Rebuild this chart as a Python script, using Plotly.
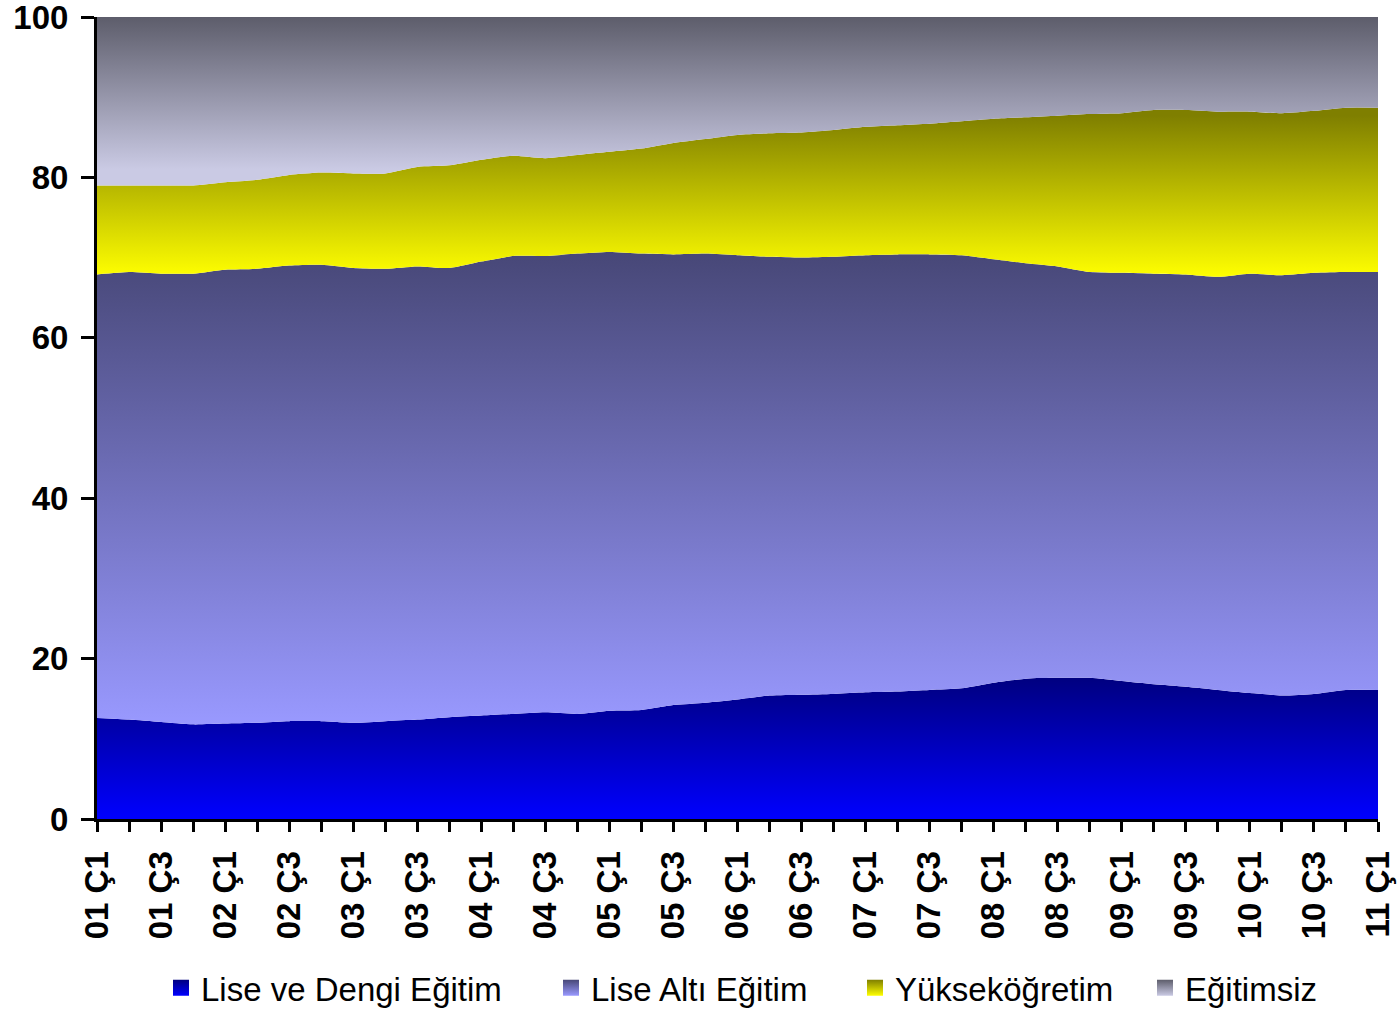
import numpy as np
import plotly.graph_objects as go

# Quarter labels 2001 Q1 .. 2011 Q1
quarters = [f"{y:02d} Ç{q}" for y in range(1, 11) for q in range(1, 5)] + ["11 Ç1"]

# Shares of the labour force by education level (%)
lise_dengi = [12.6, 12.4, 12.1, 11.8, 11.9, 12.0, 12.2, 12.2, 12.0, 12.2,
              12.4, 12.7, 12.9, 13.1, 13.3, 13.1, 13.5, 13.6, 14.2, 14.5,
              14.9, 15.4, 15.5, 15.6, 15.8, 15.9, 16.1, 16.3, 17.0, 17.5,
              17.6, 17.6, 17.2, 16.8, 16.5, 16.1, 15.7, 15.4, 15.6, 16.1, 16.1]
lise_alti = [55.3, 55.8, 55.9, 56.2, 56.6, 56.6, 56.8, 56.9, 56.7, 56.4,
             56.5, 56.0, 56.6, 57.1, 56.9, 57.4, 57.2, 56.9, 56.2, 56.0,
             55.4, 54.7, 54.5, 54.5, 54.5, 54.5, 54.3, 54.0, 52.8, 51.8,
             51.3, 50.6, 50.9, 51.2, 51.4, 51.5, 52.3, 52.4, 52.5, 52.1, 52.1]
yuksek = [11.1, 10.8, 11.0, 11.0, 10.9, 11.1, 11.3, 11.5, 11.8, 11.9,
          12.4, 12.8, 12.7, 12.5, 12.2, 12.3, 12.5, 13.1, 13.9, 14.3,
          15.0, 15.4, 15.6, 15.8, 16.0, 16.1, 16.3, 16.7, 17.5, 18.2,
          18.8, 19.7, 19.9, 20.4, 20.5, 20.6, 20.2, 20.2, 20.2, 20.5, 20.5]
egitimsiz = [21.0, 21.0, 21.0, 21.0, 20.6, 20.3, 19.7, 19.4, 19.5, 19.5,
             18.7, 18.5, 17.8, 17.3, 17.6, 17.2, 16.8, 16.4, 15.7, 15.2,
             14.7, 14.5, 14.4, 14.1, 13.7, 13.5, 13.3, 13.0, 12.7, 12.5,
             12.3, 12.1, 12.0, 11.6, 11.6, 11.8, 11.8, 12.0, 11.7, 11.3, 11.3]

series_names = ["Lise ve Dengi Eğitim", "Lise Altı Eğitim", "Yükseköğretim", "Eğitimsiz"]
series_values = [lise_dengi, lise_alti, yuksek, egitimsiz]
# (bottom colour, top colour) of each vertical gradient
gradients = [("#0000FF", "#000080"),
             ("#9999FF", "#474777"),
             ("#FFFF00", "#7F7F00"),
             ("#CACAE4", "#5D5D6B")]

x = np.arange(len(quarters))
stack = np.cumsum(np.array(series_values), axis=0)

fig = go.Figure()
prev = np.zeros(len(quarters))
for name, top, (c0, c1) in zip(series_names, stack, gradients):
    g_start = float(prev.min())
    g_stop = float(top.max())
    if name == "Yükseköğretim":
        g_stop = float(top.max()) - 1.0
    if name == "Eğitimsiz":
        g_start = float(prev.min()) + 2.0
    fig.add_trace(go.Scatter(
        x=x, y=prev, mode="lines", line=dict(width=0, shape="spline", smoothing=0.6),
        showlegend=False, hoverinfo="skip"))
    fig.add_trace(go.Scatter(
        x=x, y=top, mode="lines", name=name, showlegend=False,
        line=dict(width=0, shape="spline", smoothing=0.6),
        fill="tonexty",
        fillcolor=c0,
        fillgradient=dict(type="vertical", start=g_start, stop=g_stop,
                          colorscale=[[0, c0], [1, c1]]),
    ))
    prev = top

# Legend entries: one small legend per series, each with a square gradient swatch
legend_ids = ["legend", "legend2", "legend3", "legend4"]
legend_swatch_px = [181, 571, 875, 1165]
for name, (c0, c1), lid in zip(series_names, gradients, legend_ids):
    fig.add_trace(go.Scatter(
        x=[None], y=[None], mode="markers", name=name, legend=lid,
        marker=dict(symbol="square", size=18, color=c1,
                    gradient=dict(type="vertical", color=c0),
                    line=dict(width=0)),
    ))

legend_style = dict(orientation="h", xref="container", xanchor="left",
                    yref="container", y=0.022, yanchor="middle",
                    font=dict(size=33), itemwidth=30, itemsizing="trace",
                    bgcolor="rgba(0,0,0,0)")
legends = {lid: dict(legend_style, x=(px - 20) / 1397)
           for lid, px in zip(legend_ids, legend_swatch_px)}

tick_idx = list(range(0, len(quarters), 2))
fig.update_layout(
    width=1397, height=1010,
    margin=dict(l=97, r=19, t=17, b=191, autoexpand=False),
    paper_bgcolor="white", plot_bgcolor="white",
    font=dict(family="Arial, Liberation Sans, sans-serif", color="black"),
    showlegend=True,
    **legends,
    xaxis=dict(range=[0, len(quarters) - 1], tickmode="array",
               tickvals=tick_idx, ticktext=[quarters[i] for i in tick_idx],
               tickangle=-90, ticks="outside", ticklen=10, tickwidth=3,
               tickcolor="black", showline=True, linewidth=3, linecolor="black",
               showgrid=False, zeroline=False, automargin=False,
               ticklabelstandoff=6, ticklabeloverflow="allow",
               tickfont=dict(size=33, weight="bold"),
               minor=dict(dtick=1, ticks="outside", ticklen=10, tickwidth=3,
                          tickcolor="black", showgrid=False)),
    yaxis=dict(range=[0, 100], tickvals=[0, 20, 40, 60, 80, 100],
               ticks="outside", ticklen=13, tickwidth=3, tickcolor="black",
               showline=True, linewidth=3, linecolor="black",
               showgrid=False, zeroline=False, automargin=False,
               ticklabelstandoff=6, ticklabeloverflow="allow",
               tickfont=dict(size=33, weight="bold")),
)

fig.write_html("out.html")
